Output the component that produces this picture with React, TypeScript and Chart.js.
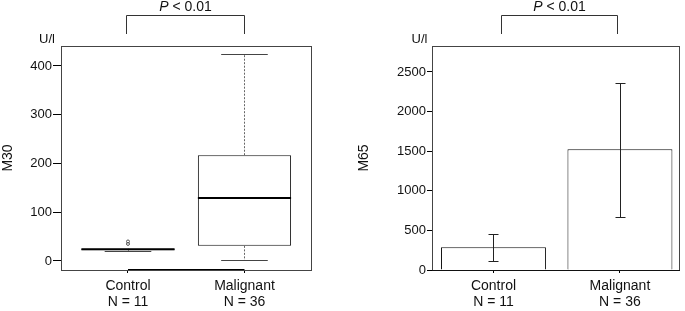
import React, { useEffect, useRef } from "react";
import { Chart, registerables } from "chart.js";

Chart.register(...registerables);

// ---------- data ----------
const categories = ["Control", "Malignant"];
const groupSizes = ["N = 11", "N = 36"];
const xPositions = [1, 2];

// M30 boxplot (U/l)
const m30Q1 = [22, 31];
const m30Median = [24, 129];
const m30Q3 = [25, 217];
const m30WhiskerLow = [20, 1];
const m30WhiskerHigh = [25.5, 425];
const m30Outliers = [[35, 40], []];
const m30Ticks = [0, 100, 200, 300, 400];

// M65 bar with error bars (U/l)
const m65Mean = [287, 1524];
const m65ErrLow = [118, 673];
const m65ErrHigh = [455, 2357];
const m65Ticks = [0, 500, 1000, 1500, 2000, 2500];

const pText = " < 0.01";
const unitLabel = "U/l";

const FONT = "'Liberation Sans', Arial, sans-serif";
const TEXT = "#111";

function frameAndAnnotations(bracket: number[], unitOffset: number, darkAxis: boolean) {
  return {
    id: "frameAnno",
    afterDraw(chart: any) {
      const { ctx, chartArea } = chart;
      const xs = chart.scales.x;
      const { left, right, top, bottom } = chartArea;
      ctx.save();
      // frame
      ctx.strokeStyle = "#444";
      ctx.lineWidth = 1;
      ctx.strokeRect(Math.round(left) + 0.5, Math.round(top) + 0.5, Math.round(right - left), Math.round(bottom - top));
      if (!darkAxis) {
        ctx.strokeStyle = "#111";
        ctx.beginPath();
        ctx.moveTo(Math.round(left), Math.round(bottom) + 0.5);
        ctx.lineTo(Math.round(right) + 1, Math.round(bottom) + 0.5);
        ctx.stroke();
      }
      // darker axis segment between first and last tick
      const x1 = xs.getPixelForValue(xPositions[0]);
      const x2 = xs.getPixelForValue(xPositions[xPositions.length - 1]);
      if (darkAxis) {
        ctx.fillStyle = "#000";
        ctx.fillRect(x1, Math.round(bottom) - 1, x2 - x1, 1);
      }
      // unit label
      ctx.fillStyle = TEXT;
      ctx.font = `13px ${FONT}`;
      ctx.textAlign = "center";
      ctx.textBaseline = "middle";
      ctx.fillText(unitLabel, left - unitOffset, 39);
      // bracket
      const bx1 = Math.round(xs.getPixelForValue(bracket[0])) + 0.5;
      const bx2 = Math.round(xs.getPixelForValue(bracket[1])) + 0.5;
      ctx.strokeStyle = "#333";
      ctx.lineWidth = 1;
      ctx.beginPath();
      ctx.moveTo(bx1, 34);
      ctx.lineTo(bx1, 15.5);
      ctx.lineTo(bx2, 15.5);
      ctx.lineTo(bx2, 34);
      ctx.stroke();
      // P value
      ctx.font = `italic 14px ${FONT}`;
      const wP = ctx.measureText("P").width;
      ctx.font = `14px ${FONT}`;
      const wR = ctx.measureText(pText).width;
      const cx = (bx1 + bx2) / 2;
      const sx = cx - (wP + wR) / 2;
      ctx.textAlign = "left";
      ctx.textBaseline = "middle";
      ctx.font = `italic 14px ${FONT}`;
      ctx.fillText("P", sx, 7.5);
      ctx.font = `14px ${FONT}`;
      ctx.fillText(pText, sx + wP, 7.5);
      ctx.restore();
    },
  };
}

const boxPlugin = {
  id: "boxWhiskers",
  afterDatasetsDraw(chart: any) {
    const { ctx } = chart;
    const ys = chart.scales.y;
    const meta = chart.getDatasetMeta(0);
    ctx.save();
    meta.data.forEach((el: any, i: number) => {
      const cx = Math.round(el.x) + 0.5;
      const w = el.width;
      const yMed = ys.getPixelForValue(m30Median[i]);
      const yQ1 = ys.getPixelForValue(m30Q1[i]);
      const yQ3 = ys.getPixelForValue(m30Q3[i]);
      const yLo = Math.round(ys.getPixelForValue(m30WhiskerLow[i])) + 0.5;
      const yHi = Math.round(ys.getPixelForValue(m30WhiskerHigh[i])) + 0.5;
      // whiskers (dashed)
      ctx.strokeStyle = "#666";
      ctx.lineWidth = 1;
      ctx.setLineDash([2, 1.5]);
      ctx.beginPath();
      ctx.moveTo(cx, yQ3);
      ctx.lineTo(cx, yHi);
      ctx.moveTo(cx, yQ1);
      ctx.lineTo(cx, yLo);
      ctx.stroke();
      ctx.setLineDash([]);
      // caps
      ctx.strokeStyle = "#444";
      ctx.beginPath();
      ctx.moveTo(el.x - w / 4, yHi);
      ctx.lineTo(el.x + w / 4, yHi);
      ctx.moveTo(el.x - w / 4, yLo);
      ctx.lineTo(el.x + w / 4, yLo);
      ctx.stroke();
      // median
      ctx.strokeStyle = "#000";
      ctx.lineWidth = 2;
      ctx.beginPath();
      ctx.moveTo(el.x - w / 2, yMed);
      ctx.lineTo(el.x + w / 2, yMed);
      ctx.stroke();
      // outliers
      ctx.strokeStyle = "#555";
      ctx.lineWidth = 1;
      m30Outliers[i].forEach((v) => {
        ctx.beginPath();
        ctx.arc(el.x, ys.getPixelForValue(v), 1.5, 0, Math.PI * 2);
        ctx.stroke();
      });
    });
    ctx.restore();
  },
};

const errorPlugin = {
  id: "errorBars",
  afterDatasetsDraw(chart: any) {
    const { ctx } = chart;
    const ys = chart.scales.y;
    const meta = chart.getDatasetMeta(0);
    ctx.save();
    ctx.strokeStyle = "#222";
    ctx.lineWidth = 1;
    meta.data.forEach((el: any, i: number) => {
      const cx = Math.round(el.x) + 0.5;
      const yLo = Math.round(ys.getPixelForValue(m65ErrLow[i])) + 0.5;
      const yHi = Math.round(ys.getPixelForValue(m65ErrHigh[i])) + 0.5;
      ctx.beginPath();
      ctx.moveTo(cx, yLo);
      ctx.lineTo(cx, yHi);
      ctx.moveTo(cx - 5, yHi);
      ctx.lineTo(cx + 5, yHi);
      ctx.moveTo(cx - 5, yLo);
      ctx.lineTo(cx + 5, yLo);
      ctx.stroke();
    });
    ctx.restore();
  },
};

function xScaleOptions(min: number, max: number) {
  return {
    type: "linear",
    min,
    max,
    offset: false,
    border: { display: false },
    grid: { display: true, drawOnChartArea: false, offset: false, tickLength: 3, color: "#000" },
    afterBuildTicks: (s: any) => {
      s.ticks = xPositions.map((v) => ({ value: v }));
    },
    afterFit: (s: any) => {
      s.height = 41;
    },
    ticks: {
      padding: 5,
      autoSkip: false,
      maxRotation: 0,
      color: TEXT,
      font: { family: FONT, size: 14, lineHeight: 1.15 },
      callback: (v: number) => {
        const i = xPositions.indexOf(v);
        return i >= 0 ? [categories[i], groupSizes[i]] : "";
      },
    },
  };
}

function yScaleOptions(min: number, max: number, tickVals: number[], width: number, tickLen: number, title: string, titlePad: number) {
  return {
    type: "linear",
    min,
    max,
    border: { display: false },
    grid: { display: true, drawOnChartArea: false, tickLength: tickLen, color: "#000" },
    afterBuildTicks: (s: any) => {
      s.ticks = tickVals.map((v) => ({ value: v }));
    },
    afterFit: (s: any) => {
      s.width = width;
    },
    ticks: {
      padding: 1,
      color: TEXT,
      font: { family: FONT, size: 13 },
      callback: (v: number) => String(v),
    },
    title: {
      display: true,
      text: title,
      color: TEXT,
      font: { family: FONT, size: 14 },
      padding: { top: titlePad, bottom: 0 },
    },
  };
}

export default function App() {
  const leftRef = useRef<HTMLCanvasElement>(null);
  const rightRef = useRef<HTMLCanvasElement>(null);

  useEffect(() => {
    const left = new Chart(leftRef.current as HTMLCanvasElement, {
      type: "bar",
      data: {
        datasets: [
          {
            data: xPositions.map((x, i) => ({ x, y: [m30Q1[i], m30Q3[i]] })) as any,
            backgroundColor: "#fff",
            borderColor: "#111",
            borderWidth: 1,
            borderSkipped: false,
            barPercentage: 1,
            categoryPercentage: 0.8,
          },
        ],
      },
      options: {
        animation: false,
        responsive: false,
        maintainAspectRatio: false,
        layout: { padding: { top: 46, right: 32, left: 0, bottom: 0 } },
        plugins: { legend: { display: false }, tooltip: { enabled: false } },
        scales: {
          x: xScaleOptions(0.425, 2.571) as any,
          y: yScaleOptions(-18.5, 441, m30Ticks, 61, 8, "M30", 0) as any,
        },
      },
      plugins: [boxPlugin, frameAndAnnotations([0.98, 2.0], 14, true)],
    });

    const right = new Chart(rightRef.current as HTMLCanvasElement, {
      type: "bar",
      data: {
        datasets: [
          {
            data: xPositions.map((x, i) => ({ x, y: m65Mean[i] })) as any,
            backgroundColor: "#fff",
            borderColor: "#111",
            borderWidth: 1,
            borderSkipped: "start",
            barPercentage: 1,
            categoryPercentage: 0.83,
          },
        ],
      },
      options: {
        animation: false,
        responsive: false,
        maintainAspectRatio: false,
        layout: { padding: { top: 46, right: 6, left: 0, bottom: 0 } },
        plugins: { legend: { display: false }, tooltip: { enabled: false } },
        scales: {
          x: xScaleOptions(0.514, 2.467) as any,
          y: yScaleOptions(0, 2828, m65Ticks, 89, 5, "M65", 12.6) as any,
        },
      },
      plugins: [errorPlugin, frameAndAnnotations([1.06, 1.98], 12.5, false)],
    });

    return () => {
      left.destroy();
      right.destroy();
    };
  }, []);

  return (
    <div style={{ position: "fixed", left: 0, top: 0, width: 685, height: 311, background: "#fff" }}>
      <canvas ref={leftRef} width={343} height={311} style={{ position: "absolute", left: 0, top: 0, width: 343, height: 311 }} />
      <canvas ref={rightRef} width={342} height={311} style={{ position: "absolute", left: 343, top: 0, width: 342, height: 311 }} />
    </div>
  );
}
